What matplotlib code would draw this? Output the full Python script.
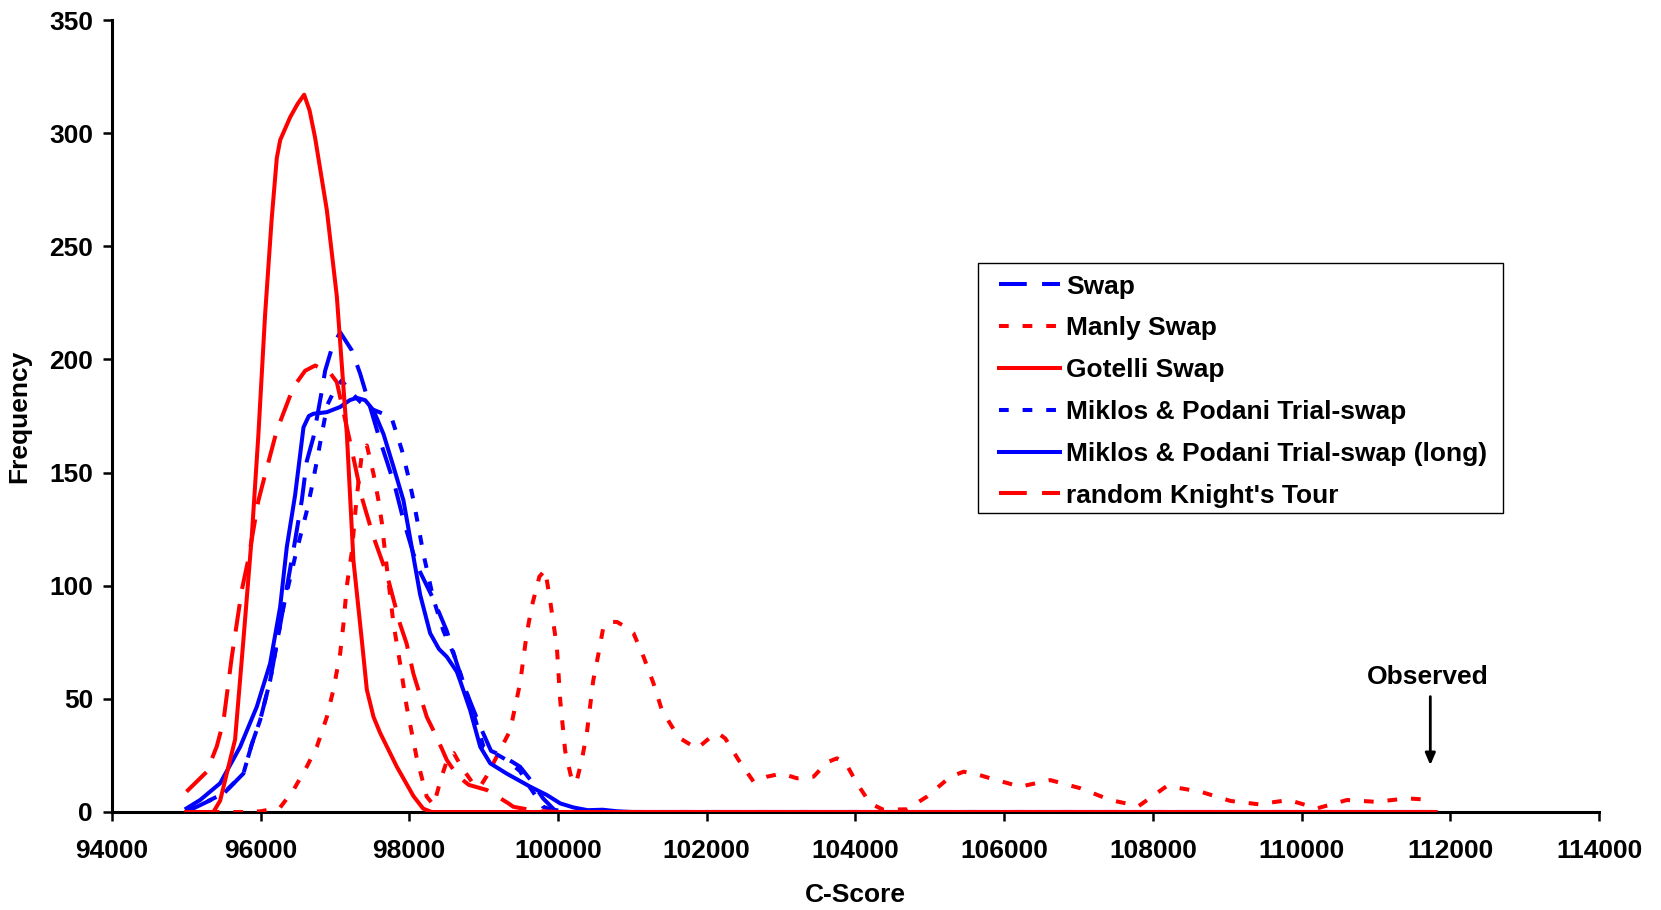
import matplotlib
matplotlib.use('Agg')
import matplotlib.pyplot as plt
from matplotlib.patches import Rectangle

plt.rcParams['font.family'] = ['Liberation Sans', 'DejaVu Sans']
plt.rcParams['font.weight'] = 'bold'
plt.rcParams['lines.scale_dashes'] = False

# --- data (C-Score vs Frequency) ---
swap_x = [95000, 95143, 95500, 95770, 95883, 95995, 96129, 96308, 96465, 96555, 96622,
          96712, 96824, 96869, 96959, 97071, 97228, 97340, 97474, 97609, 97699, 97810,
          97922, 98057, 98147, 98326, 98505, 98640, 98775, 98955, 99100, 99196, 99309,
          99491, 99649, 99800, 99950, 100100, 111800]
swap_y = [0.5, 2.3, 8, 17, 30, 40.6, 58, 90.6, 120, 137.7, 155,
          165.7, 186, 195, 205, 212, 204, 193.7, 179, 164, 155, 143.6,
          129, 114, 106, 94, 80, 65.6, 52.4, 37.7, 27, 25.6, 23.7,
          20, 13.4, 6, 1, 0, 0]

manly_x = [95000, 95800, 96000, 96264, 96443, 96622, 96757, 96892, 96980, 97071, 97115,
           97161, 97228, 97290, 97362, 97430, 97519, 97586, 97631, 97677, 97789, 97877,
           97966, 98100, 98235, 98330, 98420, 98520, 98600, 98700, 98850, 98950, 99044,
           99200, 99357, 99491, 99581, 99649, 99750, 99828, 99894, 99985, 100030, 100097,
           100187, 100245, 100321, 100389, 100474, 100545, 100612, 100700, 100792, 100900,
           101016, 101151, 101285, 101398, 101621, 101868, 102050, 102159, 102250, 102428,
           102630, 102810, 103011, 103213, 103437, 103620, 103751, 103863, 104020, 104199,
           104374, 104693, 104962, 105277, 105455, 105600, 105813, 106216, 106620, 107024,
           107427, 107808, 108189, 108638, 109042, 109423, 109827, 110208, 110611, 110992,
           111418, 111777]
manly_y = [0, 0, 0.3, 2, 9.7, 20, 28.8, 42, 54, 70, 83,
           100, 115, 138, 158, 162, 149.5, 137.7, 128, 114, 83, 65.6,
           46.5, 24, 6.8, 3, 14, 24, 26, 20, 13, 11, 16,
           26, 36, 57, 79, 91, 104, 107, 93.6, 73, 49.4, 27,
           14, 12.8, 23, 35, 58, 70, 82, 84, 84, 82,
           79, 68.6, 56.8, 45, 33, 28, 33, 34.7, 32.5, 23,
           13.4, 15.6, 17, 14.9, 15.6, 22, 23.7, 22, 12.7, 3.8,
           1, 1.2, 6.8, 15.6, 17.8, 17, 14.9, 11.2, 14.1, 10.5,
           5.3, 2.6, 11.5, 9, 4.9, 3.4, 5.3, 1.6, 5.3, 4.5,
           6, 5.3]

gotelli_x = [95000, 95367, 95457, 95658, 95770, 95883, 95972, 96062, 96150, 96219, 96265,
             96398, 96500, 96587, 96660, 96734, 96892, 97026, 97161, 97250, 97362, 97430,
             97520, 97608, 97833, 98057, 98187, 98300, 111800]
gotelli_y = [0, 0, 5, 32, 76, 122, 167, 220, 262, 289, 297,
             307, 313, 317, 310, 298, 266, 228, 167, 111, 76, 54,
             42, 35, 20, 7, 1.5, 0, 0]

trial_x = [95000, 95143, 95501, 95770, 95883, 95995, 96129, 96308, 96465, 96533, 96622,
           96690, 96757, 96824, 96900, 97003, 97093, 97200, 97350, 97500, 97650, 97760,
           97900, 97990, 98057, 98124, 98191, 98326, 98460, 98595, 98700, 98850, 98999,
           99309, 99491, 99600, 99800, 100000, 111800]
trial_y = [0.5, 2.3, 8.2, 17, 30, 40.6, 58, 90.6, 112.7, 121.5, 133,
           143.6, 155, 167, 180, 187, 190.7, 186, 181, 178, 176, 174.5,
           160, 148, 137.7, 126, 114, 94, 80, 70, 60, 45, 28.8,
           23, 18, 12, 2.3, 0, 0]

trial_long_x = [95005, 95188, 95457, 95726, 95950, 96129, 96264, 96353, 96465, 96533,
                96578, 96650, 96712, 96892, 97071, 97200, 97295, 97407, 97519, 97654, 97789,
                97922, 98057, 98147, 98281, 98400, 98505, 98640, 98684, 98819, 98955, 99089,
                99309, 99626, 99851, 100030, 100209, 100400, 100600, 100800, 101000, 111800]
trial_long_y = [1.6, 5.3, 12.7, 28.8, 46.5, 65.6, 90.6, 117, 140, 158,
                170, 175, 176, 176.7, 179, 182, 183, 182, 177.5, 167, 152.5,
                137.7, 112.7, 96, 79, 72, 68.6, 62, 58, 45, 28.8, 21.5,
                17, 11.2, 7.5, 3.8, 2, 0.8, 1, 0.3, 0, 0]

knight_x = [95005, 95278, 95412, 95501, 95614, 95748, 95838, 95972, 96085, 96219, 96443,
            96600, 96735, 96936, 97026, 97228, 97362, 97519, 97699, 97877, 97964, 98057,
            98236, 98326, 98438, 98505, 98650, 98800, 99044, 99335, 99400, 99700, 100000,
            111800]
knight_y = [9, 17.8, 29, 40, 68.6, 98, 112, 137.7, 152, 168.6, 187.8,
            195, 197.3, 194, 190, 160, 139, 121.6, 105, 83, 74.5, 61,
            42, 36, 28, 23, 16, 12, 9.7, 3.8, 2.3, 0.5, 0,
            0]

observed_x = 111731
x_ticks = list(range(94000, 114001, 2000))
y_ticks = list(range(0, 351, 50))

LONG_DASH = (20, 11)
SHORT_DASH = (7, 10)
LW = 2.9
FS = 19

fig = plt.figure(figsize=(16.61, 9.10), dpi=100)
ax = fig.add_axes([0.0673, 0.1077, 0.8954, 0.8703])

ax.plot(swap_x, swap_y, color='#0000FF', lw=LW, dashes=LONG_DASH, label='Swap', zorder=3)
ax.plot(manly_x, manly_y, color='#FF0000', lw=LW, dashes=SHORT_DASH, label='Manly Swap', zorder=3)
ax.plot(trial_x, trial_y, color='#0000FF', lw=LW, dashes=SHORT_DASH,
        label='Miklos & Podani Trial-swap', zorder=3)
ax.plot(trial_long_x, trial_long_y, color='#0000FF', lw=LW,
        label='Miklos & Podani Trial-swap (long)', zorder=4)
ax.plot(gotelli_x, gotelli_y, color='#FF0000', lw=LW, label='Gotelli Swap', zorder=5)
ax.plot(knight_x, knight_y, color='#FF0000', lw=LW, dashes=LONG_DASH,
        label="random Knight's Tour", zorder=5)

ax.set_xlim(94000, 114000)
ax.set_ylim(0, 350)
ax.set_xticks(x_ticks)
ax.set_yticks(y_ticks)
ax.spines['top'].set_visible(False)
ax.spines['right'].set_visible(False)
for s in ('left', 'bottom'):
    ax.spines[s].set_linewidth(2.2)
    ax.spines[s].set_zorder(2)
ax.tick_params(axis='both', direction='out', length=6.5, width=1.8, labelsize=FS)
ax.tick_params(axis='x', pad=13)
ax.tick_params(axis='y', pad=7)
ax.set_xlabel('C-Score', fontsize=FS, fontweight='bold', labelpad=14)
ax.set_ylabel('Frequency', fontsize=FS, fontweight='bold', labelpad=13)

# legend box drawn separately so the padding can match the reference
ax.add_patch(Rectangle((0.5823, 0.3779), 0.3533, 0.3157, transform=ax.transAxes,
                       facecolor='white', edgecolor='black', lw=1.0, zorder=6))

handles, labels = ax.get_legend_handles_labels()
order = ['Swap', 'Manly Swap', 'Gotelli Swap', 'Miklos & Podani Trial-swap',
         'Miklos & Podani Trial-swap (long)', "random Knight's Tour"]
hmap = dict(zip(labels, handles))
leg = ax.legend([hmap[k] for k in order], order, loc='upper left',
                bbox_to_anchor=(0.5966, 0.6786), borderaxespad=0, fontsize=FS,
                handlelength=2.3, handletextpad=0.25, labelspacing=0.675,
                borderpad=0, frameon=False)
leg.set_zorder(7)

ax.text(observed_x - 30, 56.5, 'Observed', ha='center', va='baseline', fontsize=FS, fontweight='bold')
ax.annotate('', xy=(observed_x, 20.7), xytext=(observed_x, 51),
            arrowprops=dict(arrowstyle='-|>,head_width=0.3,head_length=0.7',
                            lw=2, color='black', shrinkA=0, shrinkB=0))

fig.savefig('out.png', dpi=100)
